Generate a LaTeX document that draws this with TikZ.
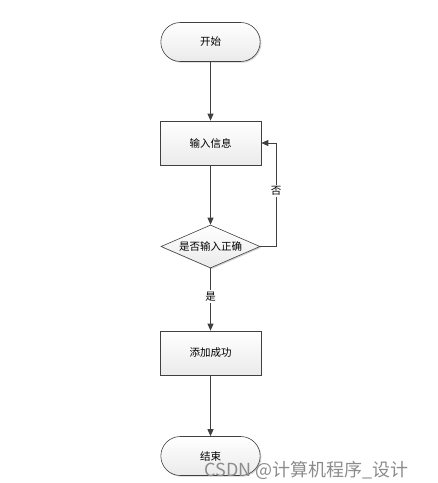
\documentclass[tikz,border=0pt]{standalone}
\usepackage{fontspec}
\setmainfont{Noto Sans CJK SC}
\usepackage{tikz}
\usetikzlibrary{arrows.meta,positioning,shapes.geometric,shapes.misc,shadows}

\begin{document}
\begin{tikzpicture}[
  x=1pt,y=-1pt,
  font=\fontsize{10.5}{12}\selectfont,
  base/.style={draw=black!75,line width=0.6pt,top color=white,bottom color=black!8,
               drop shadow={shadow xshift=1.2pt,shadow yshift=-1.2pt,fill=black!30,opacity=0.6}},
  term/.style={base,rounded rectangle,minimum width=106pt,minimum height=39pt},
  proc/.style={base,rectangle,minimum width=101pt,minimum height=44pt},
  cond/.style={base,diamond,aspect=2.3,minimum width=99pt,minimum height=43pt,inner sep=0pt},
  ar/.style={-{Triangle[length=7pt,width=6pt]},draw=black!75,line width=0.8pt},
  lbl/.style={fill=white,inner sep=1.5pt}
]
\useasboundingbox (0,0) rectangle (438,483);
% main column
\node[term] (start) at (210.5,42)  {开始};
\node[proc] (input) at (210.5,143) {输入信息};
\node[cond] (check) at (210.5,246.5) {是否输入正确};
\node[proc] (ok)    at (210.5,353) {添加成功};
\node[term] (stop)  at (210.5,456) {结束};
\coordinate (back) at (276,246.5);

\draw[ar] (start) -- (input);
\draw[ar] (input) -- (check);
\draw[ar] (check) -- node[lbl,pos=0.45]{是} (ok);
\draw[ar] (ok) -- (stop);
\draw[ar] (check.east) -- (back) |- node[lbl,pos=0.27]{否} (input.east);

% watermark
\node[text=black!45,font=\fontsize{18}{20}\selectfont,anchor=base west] (mark) at (201,476) {CSDN @计算机程序\_设计};
\end{tikzpicture}
\end{document}
